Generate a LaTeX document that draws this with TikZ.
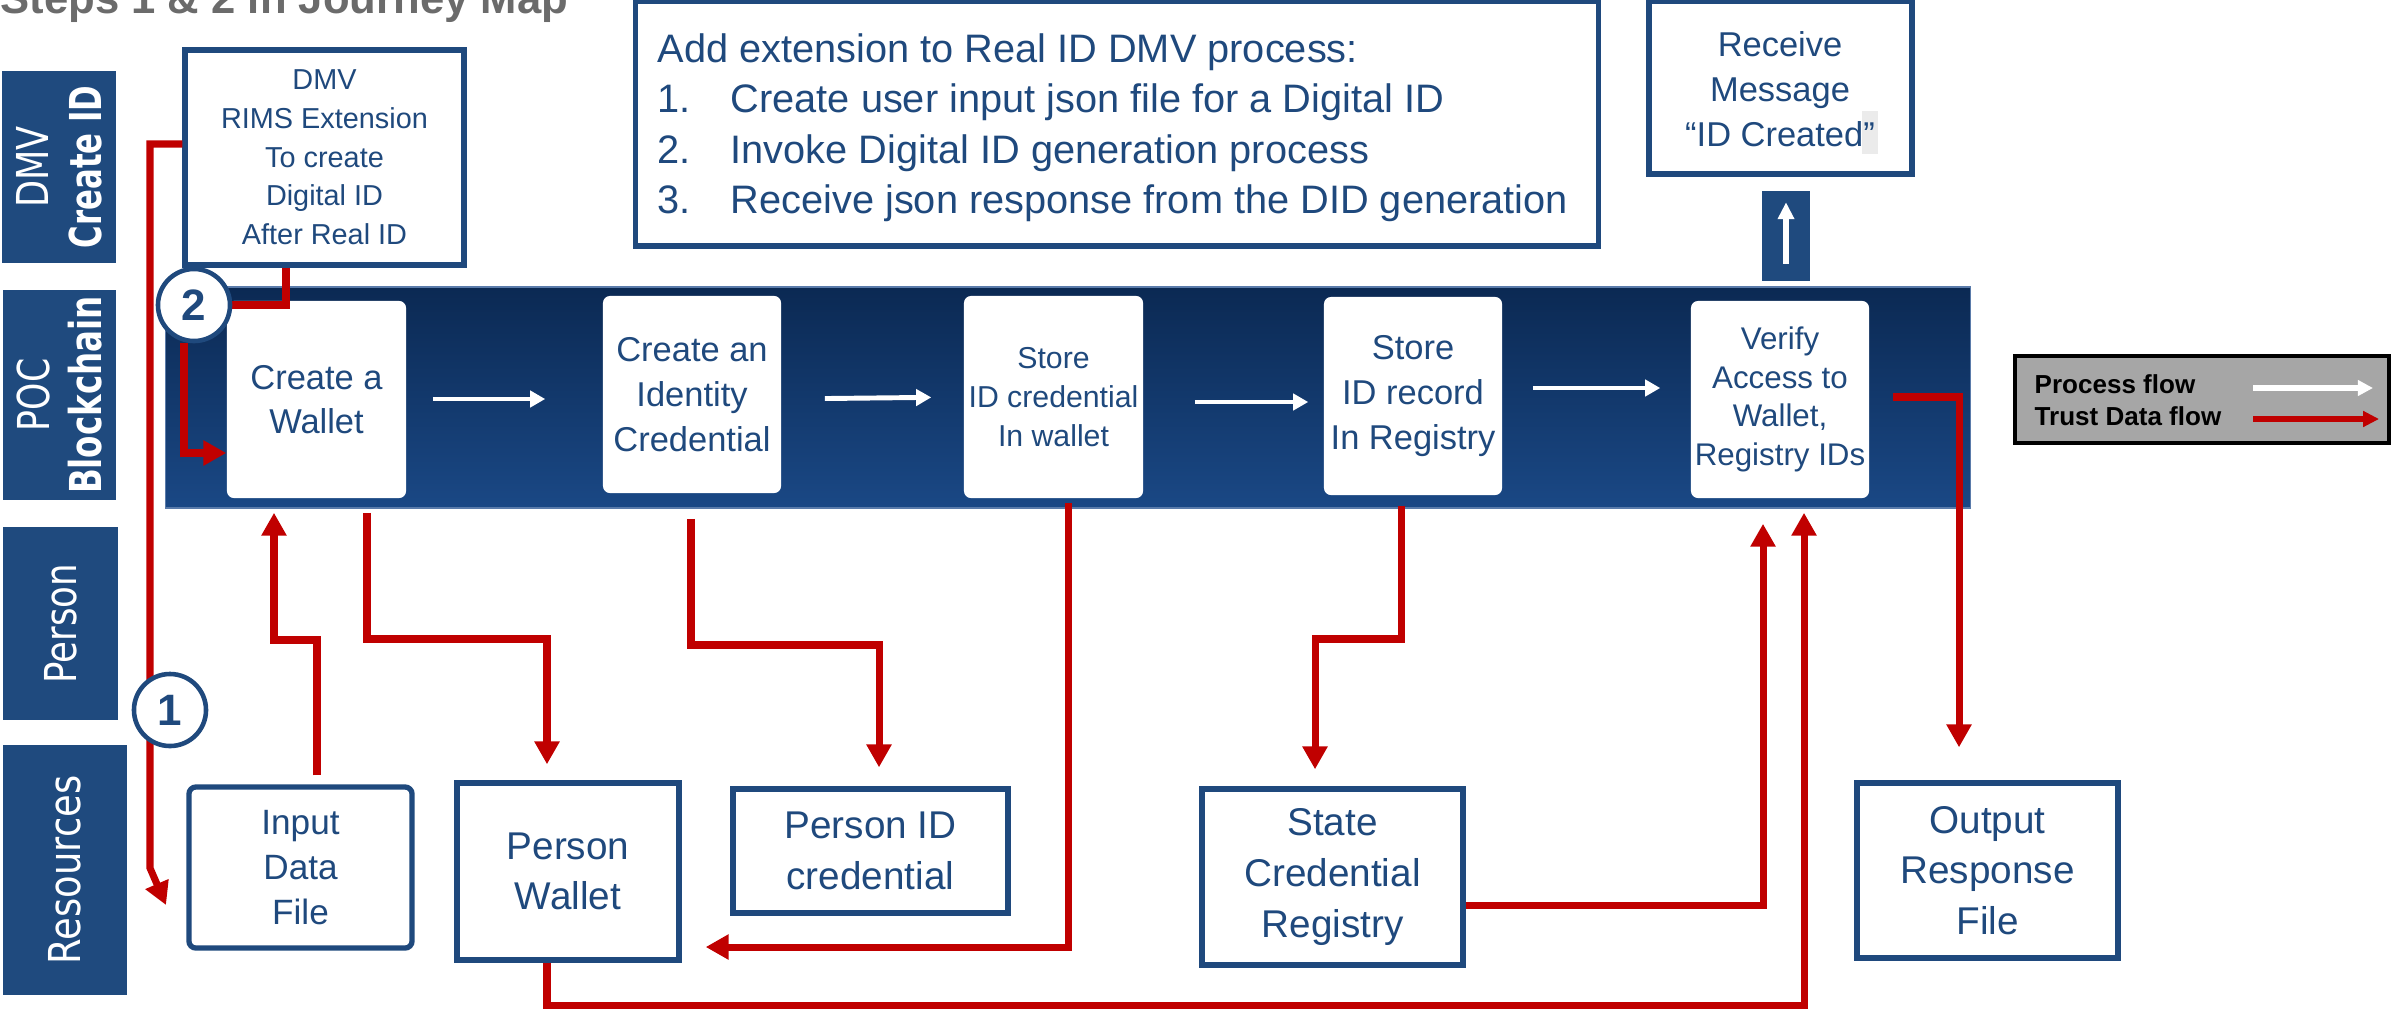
\documentclass[tikz,border=0pt]{standalone}
\usepackage{graphicx}
\usepackage{fontspec}
\setmainfont{Liberation Sans}
\newfontfamily\lanefont{DejaVu Sans}
\usetikzlibrary{arrows.meta,calc}
\pgfdeclarelayer{front}
\pgfsetlayers{main,front}
\definecolor{dblue}{HTML}{1F497D}
\definecolor{laneblue}{HTML}{1F4A7E}
\definecolor{tred}{HTML}{C00000}
\definecolor{bandtop}{HTML}{0B2953}
\definecolor{bandbot}{HTML}{1A4885}
\definecolor{bandedge}{HTML}{5A7BAA}
\definecolor{leggray}{HTML}{A6A6A6}
\definecolor{titlegray}{HTML}{6B6B6B}
\definecolor{hlgray}{HTML}{EBEBEB}
\begin{document}
\begin{tikzpicture}[x=0.01cm,y=-0.01cm,
  pbox/.style={draw=dblue,line width=1.5pt,fill=white,text=dblue,align=center,inner sep=0pt},
  wbox/.style={fill=white,rounded corners=2pt,text=dblue,align=center,inner sep=0pt},
  lane/.style={fill=laneblue,inner sep=0pt},
  lanetext/.style={text=white,rotate=90,align=center,inner sep=0pt,font=\lanefont\fontsize{12.5}{15}\selectfont},
  stepcirc/.style={circle,draw=dblue,line width=1.3pt,fill=white,text=dblue,inner sep=0pt,minimum size=0.72cm,font=\bfseries\fontsize{12.5}{12.5}\selectfont},
  trust/.style={draw=tred,line width=2pt,-{Triangle[length=6.5pt,width=6.8pt]}},
  trustline/.style={draw=tred,line width=2pt},
  proc/.style={draw=white,line width=1.4pt,-{Triangle[length=4.3pt,width=4.6pt]}},
  addline/.style={anchor=base west,inner sep=0pt,text=dblue,font=\fontsize{11.3}{14.4}\selectfont},
  legtext/.style={anchor=base west,inner sep=0pt,text=black,font=\bfseries\fontsize{7.4}{8}\selectfont}
]
\useasboundingbox (0,0) rectangle (2392,1009);

% title (cut off at the top)
\node[anchor=base west,inner sep=0pt,text=titlegray] (title) at (0,13) {\resizebox{5.67cm}{!}{\bfseries Steps 1 \& 2 in Journey Map}};

% lanes
\node[lane,minimum width=1.14cm,minimum height=1.92cm] (lane1) at (59,167) {};
\node[lanetext] (lane1t) at (lane1.center) {\scalebox{0.8}[1]{DMV}\\\scalebox{0.7}[1]{\bfseries Create ID}};
\node[lane,minimum width=1.13cm,minimum height=2.10cm] (lane2) at (59.5,395) {};
\node[lanetext] (lane2t) at (lane2.center) {\scalebox{0.79}[1]{POC}\\\scalebox{0.74}[1]{\bfseries Blockchain}};
\node[lane,minimum width=1.15cm,minimum height=1.93cm] (lane3) at (60.5,623.5) {};
\node[lanetext] (lane3t) at (lane3.center) {\scalebox{0.81}[1]{Person}};
\node[lane,minimum width=1.24cm,minimum height=2.50cm] (lane4) at (65,870) {};
\node[lanetext] (lane4t) at (lane4.center) {\scalebox{0.84}[1]{Resources}};

% DMV box
\node[pbox,minimum width=2.79cm,minimum height=2.15cm,font=\fontsize{8.2}{11}\selectfont] (dmv) at (324.5,157.5) {DMV\\RIMS Extension\\To create\\Digital ID\\After Real ID};

% Add extension box
\node[pbox,minimum width=9.62cm,minimum height=2.45cm] (addbox) at (1117,123.5) {};
\node[addline] (addh) at (657,62) {Add extension to Real ID DMV process:};
\node[addline] (add1) at (657,112) {\makebox[0.73cm][l]{1.}Create user input json file for a Digital ID};
\node[addline] (add2) at (657,163) {\makebox[0.73cm][l]{2.}Invoke Digital ID generation process};
\node[addline] (add3) at (657,213) {\makebox[0.73cm][l]{3.}Receive json response from the DID generation};

% Receive message box
\node[pbox,minimum width=2.63cm,minimum height=1.73cm] (rcv) at (1780.5,87.5) {};
\fill[hlgray] (1862,111) rectangle (1878,154);
\node[text=dblue,align=center,inner sep=0pt,font=\fontsize{9.8}{12.8}\selectfont] (rcvtext) at (1780,89) {Receive\\Message\\“ID Created”};

% up arrow box
\node[lane,minimum width=0.48cm,minimum height=0.90cm] (upbox) at (1786,236) {};
\draw[draw=white,line width=1.5pt,-{Triangle[length=4.8pt,width=4.5pt]},shorten <=0.18cm,shorten >=0.12cm] (upbox.south) -- (upbox.north);

% blockchain band
\node[inner sep=0pt,minimum width=18.04cm,minimum height=2.21cm,top color=bandtop,bottom color=bandbot,draw=bandedge,line width=0.5pt] (band) at (1068,397.5) {};

\node[wbox,minimum width=1.79cm,minimum height=1.97cm,font=\fontsize{9.8}{12.7}\selectfont] (wal) at (316.5,399.5) {Create a\\Wallet};
\node[wbox,minimum width=1.78cm,minimum height=1.97cm,font=\fontsize{9.8}{12.7}\selectfont] (idc) at (692,394.5) {Create an\\Identity\\Credential};
\node[wbox,minimum width=1.79cm,minimum height=2.02cm,font=\fontsize{8.6}{11}\selectfont] (sto) at (1053.5,397) {Store\\ID credential\\In wallet};
\node[wbox,minimum width=1.78cm,minimum height=1.98cm,font=\fontsize{9.8}{12.7}\selectfont] (reg) at (1413,396) {Store\\ID record\\In Registry};
\node[wbox,minimum width=1.78cm,minimum height=1.97cm,font=\fontsize{8.9}{11}\selectfont] (ver) at (1780,399.5) {Verify\\Access to\\Wallet,\\Registry IDs};

% process arrows
\draw[proc,shorten <=0.26cm,shorten >=0.57cm] (wal.east |- 0,399) -- (idc.west |- 0,399);
\draw[proc,shorten <=0.43cm,shorten >=0.32cm] (idc.east |- 0,399) -- (sto.west |- 0,397);
\draw[proc,shorten <=0.51cm,shorten >=0.15cm] (sto.east |- 0,402) -- (reg.west |- 0,402);
\draw[proc,shorten <=0.30cm,shorten >=0.30cm] (reg.east |- 0,388) -- (ver.west |- 0,388);

% resource boxes
\node[pbox,rounded corners=2pt,minimum width=2.23cm,minimum height=1.61cm,font=\fontsize{10}{12.8}\selectfont] (inp) at (300.5,867.5) {Input\\Data\\File};
\node[pbox,minimum width=2.22cm,minimum height=1.77cm,font=\fontsize{11}{14.4}\selectfont] (pw) at (568,871.5) {Person\\Wallet};
\node[pbox,minimum width=2.75cm,minimum height=1.24cm,font=\fontsize{11}{14.4}\selectfont] (pid) at (870.5,851) {Person ID\\credential};
\node[pbox,minimum width=2.61cm,minimum height=1.76cm,font=\fontsize{11}{14.4}\selectfont] (scr) at (1332.5,877) {State\\Credential\\Registry};
\node[pbox,minimum width=2.61cm,minimum height=1.75cm,font=\fontsize{11}{14.4}\selectfont] (out) at (1987.5,870.5) {Output\\Response\\File};

% step circles (on front layer, above connectors)
\begin{pgfonlayer}{front}
\node[stepcirc] (c2) at (194,305) {2};
\node[stepcirc] (c1) at (170,710) {1};
\end{pgfonlayer}

% trust data connectors
\coordinate (t1end) at (166,905);
\draw[trust] (dmv.west |- 0,144) -- (150,144) -- (150,868) -- (t1end);
\draw[trustline] (dmv.south -| 286,0) |- (c2.east);
\draw[trust] ($(c2.south)+(-10,0)$) |- (wal.west |- 0,453);
\draw[trust,shorten <=0.09cm,shorten >=0.14cm] (inp.north -| 317,0) -- (317,640) -| (wal.south -| 274,0);
\draw[trust,shorten <=0.14cm,shorten >=0.16cm] (wal.south -| 367,0) -- (367,639) -| (pw.north -| 547,0);
\draw[trust,shorten <=0.25cm,shorten >=0.19cm] (idc.south -| 691,0) -- (691,645) -| (pid.north -| 879,0);
\draw[trust,shorten <=0.04cm,shorten >=0.24cm] (sto.south -| 1068,0) |- (pw.east |- 0,947);
\draw[trust,shorten <=0.10cm,shorten >=0.17cm] (reg.south -| 1401,0) -- (1401,639) -| (scr.north -| 1315,0);
\draw[trust,shorten >=0.25cm] (scr.east |- 0,905) -| (ver.south -| 1763,0);
\draw[trust,shorten >=0.14cm] (pw.south -| 547,0) -- (547,1005) -| (ver.south -| 1804,0);
\draw[trust,shorten <=0.23cm,shorten >=0.33cm] (ver.east |- 0,397) -| (out.north -| 1959,0);

% legend
\node[draw=black,line width=1.3pt,fill=leggray,minimum width=3.74cm,minimum height=0.87cm,inner sep=0pt] (legend) at (2202,399.5) {};
\node[legtext] (legp) at (2034,393) {Process flow};
\node[legtext] (legt) at (2034,425) {Trust Data flow};
\coordinate (lp1) at (2253,388);
\coordinate (lp2) at (2373,388);
\coordinate (lt1) at (2253,419);
\coordinate (lt2) at (2379,419);
\draw[draw=white,line width=1.5pt,-{Triangle[length=4.3pt,width=4.3pt]}] (lp1) -- (lp2);
\draw[draw=tred,line width=1.5pt,-{Triangle[length=4.5pt,width=4.3pt]}] (lt1) -- (lt2);
\end{tikzpicture}
\end{document}
